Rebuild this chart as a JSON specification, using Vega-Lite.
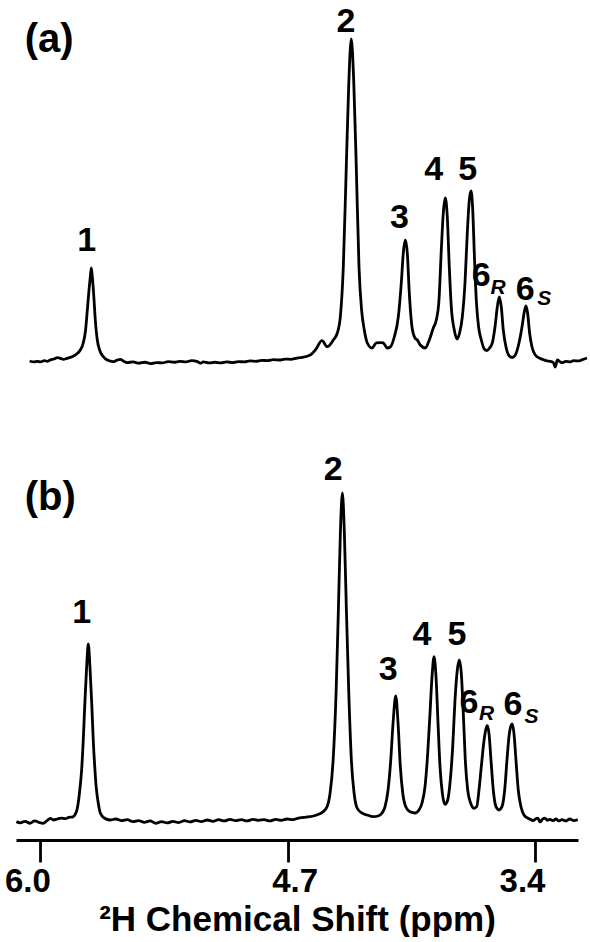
{
  "$schema": "https://vega.github.io/schema/vega-lite/v6.json",
  "padding": {"left": 4, "top": 0, "right": 0, "bottom": 0},
  "background": "white",
  "bounds": "flush",
  "spacing": 75,
  "config": {"view": {"stroke": null}, "font": "Liberation Sans"},
  "datasets": {
    "a": [
      {"ppm":6.066,"i":-0.3},{"ppm":6.045,"i":-0.6},{"ppm":6.025,"i":-0.4},{"ppm":6.011,"i":-0.6},{"ppm":5.99,"i":-0.2},
      {"ppm":5.975,"i":-0.4},{"ppm":5.96,"i":0},{"ppm":5.942,"i":0.3},{"ppm":5.924,"i":0.72},{"ppm":5.908,"i":0.5},
      {"ppm":5.893,"i":0.2},{"ppm":5.875,"i":0.5},{"ppm":5.857,"i":0.84},{"ppm":5.845,"i":1.1},{"ppm":5.832,"i":1.56},
      {"ppm":5.806,"i":3.12},{"ppm":5.791,"i":5.30},{"ppm":5.779,"i":9.35},
      {"ppm":5.770,"i":15.58},{"ppm":5.7615,"i":21.8},{"ppm":5.7548,"i":25.86},{"ppm":5.7497,"i":28.66},{"ppm":5.7445,"i":25.86},
      {"ppm":5.7379,"i":20.87},{"ppm":5.7291,"i":12.46},{"ppm":5.7189,"i":6.23},{"ppm":5.7071,"i":3.12},{"ppm":5.688,"i":1.03},
      {"ppm":5.668,"i":0},{"ppm":5.637,"i":-0.5},{"ppm":5.62,"i":-0.1},{"ppm":5.601,"i":0.2},{"ppm":5.583,"i":-0.4},
      {"ppm":5.565,"i":-0.8},{"ppm":5.535,"i":-0.6},{"ppm":5.505,"i":-1.0},{"ppm":5.475,"i":-0.7},{"ppm":5.445,"i":-1.1},
      {"ppm":5.415,"i":-0.8},{"ppm":5.385,"i":-0.9},{"ppm":5.355,"i":-0.5},{"ppm":5.325,"i":-0.7},{"ppm":5.295,"i":-0.4},
      {"ppm":5.265,"i":-0.6},{"ppm":5.235,"i":-0.2},{"ppm":5.205,"i":-0.5},{"ppm":5.19,"i":-1.0},{"ppm":5.175,"i":-0.6},
      {"ppm":5.145,"i":-0.9},{"ppm":5.115,"i":-0.7},{"ppm":5.085,"i":-0.9},{"ppm":5.055,"i":-0.6},{"ppm":5.025,"i":-0.8},
      {"ppm":4.995,"i":-0.5},{"ppm":4.965,"i":-0.6},{"ppm":4.935,"i":-0.3},{"ppm":4.905,"i":-0.4},{"ppm":4.875,"i":-0.1},
      {"ppm":4.845,"i":-0.2},{"ppm":4.815,"i":0.1},{"ppm":4.785,"i":0.0},{"ppm":4.755,"i":0.3},{"ppm":4.725,"i":0.2},
      {"ppm":4.695,"i":0.6},{"ppm":4.677,"i":0.72},{"ppm":4.626,"i":1.56},{"ppm":4.600,"i":3.12},{"ppm":4.566,"i":6.01},
      {"ppm":4.539,"i":4.14},{"ppm":4.508,"i":6.23},{"ppm":4.4875,"i":8.41},{"ppm":4.472,"i":13.40},{"ppm":4.4567,"i":28.97},
      {"ppm":4.4414,"i":60.12},{"ppm":4.4285,"i":86.29},{"ppm":4.4157,"i":100},{"ppm":4.4029,"i":86.29},{"ppm":4.3901,"i":60.12},
      {"ppm":4.3762,"i":28.97},{"ppm":4.3629,"i":15.58},{"ppm":4.349,"i":9.35},{"ppm":4.3336,"i":5.30},{"ppm":4.3095,"i":3.74},
      {"ppm":4.2874,"i":5.30},{"ppm":4.2669,"i":5.39},{"ppm":4.2515,"i":5.30},{"ppm":4.231,"i":3.74},{"ppm":4.2156,"i":4.05},
      {"ppm":4.1951,"i":7.17},{"ppm":4.1746,"i":13.40},{"ppm":4.1592,"i":23.99},{"ppm":4.1489,"i":33.33},{"ppm":4.1387,"i":37.38},
      {"ppm":4.1284,"i":33.33},{"ppm":4.1181,"i":20.87},{"ppm":4.1043,"i":10.28},{"ppm":4.0889,"i":6.85},{"ppm":4.0771,"i":6.23},
      {"ppm":4.0617,"i":4.67},{"ppm":4.0361,"i":3.74},{"ppm":4.0155,"i":6.23},{"ppm":3.995,"i":9.97},{"ppm":3.9796,"i":12.46},
      {"ppm":3.9658,"i":18.69},{"ppm":3.9539,"i":34.27},{"ppm":3.9437,"i":45.79},{"ppm":3.9334,"i":50.47},{"ppm":3.9232,"i":44.55},
      {"ppm":3.9129,"i":28.97},{"ppm":3.9026,"i":16.51},{"ppm":3.8873,"i":9.35},{"ppm":3.8734,"i":6.54},{"ppm":3.8601,"i":8.41},
      {"ppm":3.8462,"i":13.40},{"ppm":3.8324,"i":23.99},{"ppm":3.8206,"i":39.56},{"ppm":3.8103,"i":49.84},{"ppm":3.8016,"i":52.65},
      {"ppm":3.7934,"i":47.66},{"ppm":3.7846,"i":33.33},{"ppm":3.7744,"i":18.69},{"ppm":3.7626,"i":10.28},{"ppm":3.7487,"i":6.23},
      {"ppm":3.7333,"i":3.43},{"ppm":3.7195,"i":2.96},{"ppm":3.7062,"i":3.74},{"ppm":3.6923,"i":5.30},{"ppm":3.6784,"i":10.28},
      {"ppm":3.6666,"i":16.51},{"ppm":3.6564,"i":19.63},{"ppm":3.6461,"i":16.51},{"ppm":3.6359,"i":9.35},{"ppm":3.622,"i":4.05},
      {"ppm":3.6051,"i":1.25},{"ppm":3.5897,"i":0.78},{"ppm":3.5743,"i":1.56},{"ppm":3.5553,"i":5.30},{"ppm":3.5399,"i":10.28},
      {"ppm":3.5281,"i":14.95},{"ppm":3.5194,"i":16.82},{"ppm":3.5112,"i":14.64},{"ppm":3.5009,"i":8.41},{"ppm":3.4886,"i":4.05},
      {"ppm":3.4717,"i":1.56},{"ppm":3.446,"i":0.47},{"ppm":3.43,"i":0.1},{"ppm":3.4117,"i":-0.3},{"ppm":3.395,"i":-0.4},
      {"ppm":3.3793,"i":-0.78},{"ppm":3.3691,"i":-2.18},{"ppm":3.3588,"i":0},{"ppm":3.346,"i":-0.5},{"ppm":3.3331,"i":-0.84},
      {"ppm":3.315,"i":-0.4},{"ppm":3.2921,"i":-0.6},{"ppm":3.275,"i":-0.2},{"ppm":3.2511,"i":-0.3},{"ppm":3.23,"i":0.1},
      {"ppm":3.2064,"i":0.62}
    ],
    "b": [
      {"ppm":6.126,"i":-0.5},{"ppm":6.105,"i":-0.9},{"ppm":6.08,"i":-0.4},{"ppm":6.055,"i":-1.0},{"ppm":6.03,"i":-0.3},
      {"ppm":6.005,"i":-0.8},{"ppm":5.985,"i":-1.0},{"ppm":5.965,"i":-0.2},{"ppm":5.948,"i":0.5},{"ppm":5.93,"i":0.0},
      {"ppm":5.911,"i":0.3},{"ppm":5.89,"i":0.6},{"ppm":5.869,"i":0.4},{"ppm":5.85,"i":0.8},{"ppm":5.832,"i":0.9},
      {"ppm":5.811,"i":2.45},{"ppm":5.801,"i":5.20},
      {"ppm":5.790,"i":10.70},{"ppm":5.783,"i":15.29},{"ppm":5.7745,"i":24.46},{"ppm":5.766,"i":35.78},{"ppm":5.757,"i":46.48},
      {"ppm":5.748,"i":53.82},{"ppm":5.739,"i":46.48},{"ppm":5.730,"i":35.78},{"ppm":5.722,"i":24.46},{"ppm":5.713,"i":15.29},
      {"ppm":5.706,"i":9.79},{"ppm":5.6957,"i":5.20},{"ppm":5.685,"i":2.14},{"ppm":5.664,"i":0.61},
      {"ppm":5.633,"i":0},{"ppm":5.603,"i":0.3},{"ppm":5.573,"i":-0.2},{"ppm":5.543,"i":0.1},{"ppm":5.513,"i":-0.5},
      {"ppm":5.483,"i":-0.2},{"ppm":5.453,"i":-0.7},{"ppm":5.423,"i":-0.3},{"ppm":5.393,"i":-1.0},{"ppm":5.363,"i":-0.5},
      {"ppm":5.333,"i":-0.9},{"ppm":5.303,"i":-0.4},{"ppm":5.273,"i":-0.8},{"ppm":5.243,"i":-0.2},{"ppm":5.213,"i":-0.6},
      {"ppm":5.183,"i":-0.1},{"ppm":5.153,"i":-0.5},{"ppm":5.123,"i":0.0},{"ppm":5.093,"i":-0.4},{"ppm":5.063,"i":0.1},
      {"ppm":5.033,"i":-0.3},{"ppm":5.003,"i":0.2},{"ppm":4.973,"i":-0.2},{"ppm":4.943,"i":0.1},{"ppm":4.913,"i":-0.3},
      {"ppm":4.883,"i":0.2},{"ppm":4.853,"i":-0.1},{"ppm":4.823,"i":0.1},{"ppm":4.793,"i":-0.3},{"ppm":4.763,"i":0.2},
      {"ppm":4.733,"i":-0.1},{"ppm":4.703,"i":0.3},{"ppm":4.673,"i":0.1},{"ppm":4.643,"i":0.6},
      {"ppm":4.582,"i":1.01},{"ppm":4.547,"i":1.53},{"ppm":4.514,"i":2.54},{"ppm":4.493,"i":4.07},{"ppm":4.477,"i":8.26},
      {"ppm":4.461,"i":18.35},{"ppm":4.4456,"i":38.84},{"ppm":4.4335,"i":64.22},{"ppm":4.423,"i":87.77},{"ppm":4.4125,"i":100},
      {"ppm":4.402,"i":87.77},{"ppm":4.3914,"i":64.22},{"ppm":4.3788,"i":38.84},{"ppm":4.3652,"i":18.35},{"ppm":4.351,"i":8.26},
      {"ppm":4.3352,"i":3.67},{"ppm":4.3106,"i":2.14},{"ppm":4.2827,"i":1.53},{"ppm":4.2512,"i":1.01},{"ppm":4.2249,"i":1.22},
      {"ppm":4.2039,"i":2.14},{"ppm":4.1882,"i":4.07},{"ppm":4.1724,"i":9.17},{"ppm":4.1582,"i":18.35},{"ppm":4.1461,"i":29.66},
      {"ppm":4.132,"i":37.92},{"ppm":4.1199,"i":29.66},{"ppm":4.1078,"i":16.30},{"ppm":4.0952,"i":8.26},{"ppm":4.0794,"i":4.07},
      {"ppm":4.0569,"i":2.54},{"ppm":4.0306,"i":2.14},{"ppm":4.0096,"i":3.06},{"ppm":3.9938,"i":5.20},{"ppm":3.9781,"i":10.18},
      {"ppm":3.9639,"i":20.49},{"ppm":3.9518,"i":32.72},{"ppm":3.9413,"i":43.82},{"ppm":3.9308,"i":49.94},{"ppm":3.9203,"i":43.82},
      {"ppm":3.9098,"i":29.66},{"ppm":3.8993,"i":16.30},{"ppm":3.8872,"i":8.26},{"ppm":3.873,"i":4.80},{"ppm":3.8588,"i":6.12},
      {"ppm":3.8452,"i":12.23},{"ppm":3.8326,"i":22.42},{"ppm":3.8205,"i":36.70},{"ppm":3.8084,"i":45.87},{"ppm":3.7979,"i":48.93},
      {"ppm":3.7874,"i":44.86},{"ppm":3.7769,"i":32.72},{"ppm":3.7664,"i":18.35},{"ppm":3.7538,"i":9.17},{"ppm":3.738,"i":5.11},
      {"ppm":3.7207,"i":3.58},{"ppm":3.7065,"i":4.07},{"ppm":3.6944,"i":9.17},{"ppm":3.6823,"i":16.30},{"ppm":3.6697,"i":23.46},
      {"ppm":3.6592,"i":27.52},{"ppm":3.6508,"i":28.84},{"ppm":3.6419,"i":26.51},{"ppm":3.6314,"i":18.35},{"ppm":3.6193,"i":9.17},
      {"ppm":3.6051,"i":4.07},{"ppm":3.5894,"i":3.06},{"ppm":3.5736,"i":4.07},{"ppm":3.5594,"i":9.17},{"ppm":3.5473,"i":18.35},
      {"ppm":3.5368,"i":25.47},{"ppm":3.5279,"i":28.53},{"ppm":3.5195,"i":29.36},{"ppm":3.5106,"i":26.51},{"ppm":3.5001,"i":18.35},
      {"ppm":3.488,"i":9.17},{"ppm":3.4738,"i":4.07},{"ppm":3.458,"i":1.53},{"ppm":3.437,"i":0.52},{"ppm":3.42,"i":0.1},
      {"ppm":3.4108,"i":-0.2},{"ppm":3.395,"i":0.4},{"ppm":3.3845,"i":0.6},{"ppm":3.374,"i":-0.6},{"ppm":3.36,"i":0.3},
      {"ppm":3.3477,"i":0.6},{"ppm":3.335,"i":-0.1},{"ppm":3.3215,"i":0.2},{"ppm":3.305,"i":-0.2},{"ppm":3.29,"i":0.3},
      {"ppm":3.275,"i":-0.3},{"ppm":3.2584,"i":0.1},{"ppm":3.24,"i":-0.3},{"ppm":3.2164,"i":0.3},{"ppm":3.195,"i":-0.2},
      {"ppm":3.1755,"i":0.1}
    ],
    "labA": [
      {"t":"(a)","k":"p","ppm":6.091,"i":96.05},
      {"t":"1","k":"m","ppm":5.773,"i":33.96},
      {"t":"2","k":"m","ppm":4.443,"i":102.18},
      {"t":"3","k":"m","ppm":4.169,"i":41.1},
      {"t":"4","k":"m","ppm":3.9935,"i":56.1},
      {"t":"5","k":"m","ppm":3.818,"i":56.1},
      {"t":"6","k":"m","ppm":3.7498,"i":23.05},
      {"t":"R","k":"s","ppm":3.6625,"i":20.56},
      {"t":"6","k":"m","ppm":3.523,"i":18.69},
      {"t":"S","k":"s","ppm":3.4255,"i":17.13}
    ],
    "labB": [
      {"t":"(b)","k":"p","ppm":6.0818,"i":94.8},
      {"t":"1","k":"m","ppm":5.783,"i":60.24},
      {"t":"2","k":"m","ppm":4.461,"i":103.98},
      {"t":"3","k":"m","ppm":4.172,"i":42.81},
      {"t":"4","k":"m","ppm":3.994,"i":53.52},
      {"t":"5","k":"m","ppm":3.810,"i":53.52},
      {"t":"6","k":"m","ppm":3.747,"i":32.72},
      {"t":"R","k":"s","ppm":3.655,"i":30.58},
      {"t":"6","k":"m","ppm":3.5158,"i":32.11},
      {"t":"S","k":"s","ppm":3.4186,"i":29.66}
    ]
  },
  "vconcat": [
    {
      "width": 574,
      "height": 380,
      "encoding": {
        "x": {"field": "ppm", "type": "quantitative", "scale": {"domain": [3.191, 6.136], "reverse": true, "nice": false, "zero": false}, "axis": null},
        "y": {"field": "i", "type": "quantitative", "scale": {"domain": [-6.23, 112.15], "nice": false, "zero": false}, "axis": null}
      },
      "layer": [
        {"data": {"name": "a"}, "mark": {"type": "line", "color": "black", "strokeWidth": 2.8, "interpolate": "monotone"}},
        {"data": {"name": "labA"}, "transform": [{"filter": "datum.k == 'p'"}],
         "mark": {"type": "text", "align": "left", "baseline": "alphabetic", "fontSize": 40, "fontWeight": "bold", "font": "Liberation Sans", "color": "black"},
         "encoding": {"text": {"field": "t"}}},
        {"data": {"name": "labA"}, "transform": [{"filter": "datum.k == 'm'"}],
         "mark": {"type": "text", "align": "center", "baseline": "alphabetic", "fontSize": 34, "fontWeight": "bold", "font": "Liberation Sans", "color": "black"},
         "encoding": {"text": {"field": "t"}}},
        {"data": {"name": "labA"}, "transform": [{"filter": "datum.k == 's'"}],
         "mark": {"type": "text", "align": "center", "baseline": "alphabetic", "fontSize": 21, "fontWeight": "bold", "fontStyle": "italic", "font": "Liberation Sans", "color": "black"},
         "encoding": {"text": {"field": "t"}}}
      ]
    },
    {
      "width": 562,
      "height": 385,
      "encoding": {
        "x": {"field": "ppm", "type": "quantitative", "scale": {"domain": [3.174, 6.128], "reverse": true, "nice": false, "zero": false},
              "axis": {"orient": "bottom", "values": [6.0, 4.7, 3.4], "format": ".1f", "grid": false,
                       "domainColor": "black", "domainWidth": 2.8, "tickColor": "black", "tickWidth": 2.8, "tickSize": 22,
                       "labelFont": "Liberation Sans", "labelFontSize": 33, "labelFontWeight": "bold", "labelColor": "black",
                       "labelPadding": 3, "labelFlush": false, "labelOverlap": false,
                       "labelOffset": {"condition": {"test": "datum.value > 4.6 && datum.value < 4.8", "value": 7}, "value": -13},
                       "title": "²H Chemical Shift (ppm)", "titleFont": "Liberation Sans", "titleFontSize": 35,
                       "titleFontWeight": "bold", "titleColor": "black", "titlePadding": 4}},
        "y": {"field": "i", "type": "quantitative", "scale": {"domain": [-6.12, 111.62], "nice": false, "zero": false}, "axis": null}
      },
      "layer": [
        {"data": {"name": "b"}, "mark": {"type": "line", "color": "black", "strokeWidth": 2.8, "interpolate": "monotone"}},
        {"data": {"name": "labB"}, "transform": [{"filter": "datum.k == 'p'"}],
         "mark": {"type": "text", "align": "left", "baseline": "alphabetic", "fontSize": 40, "fontWeight": "bold", "font": "Liberation Sans", "color": "black"},
         "encoding": {"text": {"field": "t"}}},
        {"data": {"name": "labB"}, "transform": [{"filter": "datum.k == 'm'"}],
         "mark": {"type": "text", "align": "center", "baseline": "alphabetic", "fontSize": 34, "fontWeight": "bold", "font": "Liberation Sans", "color": "black"},
         "encoding": {"text": {"field": "t"}}},
        {"data": {"name": "labB"}, "transform": [{"filter": "datum.k == 's'"}],
         "mark": {"type": "text", "align": "center", "baseline": "alphabetic", "fontSize": 21, "fontWeight": "bold", "fontStyle": "italic", "font": "Liberation Sans", "color": "black"},
         "encoding": {"text": {"field": "t"}}}
      ]
    }
  ]
}
